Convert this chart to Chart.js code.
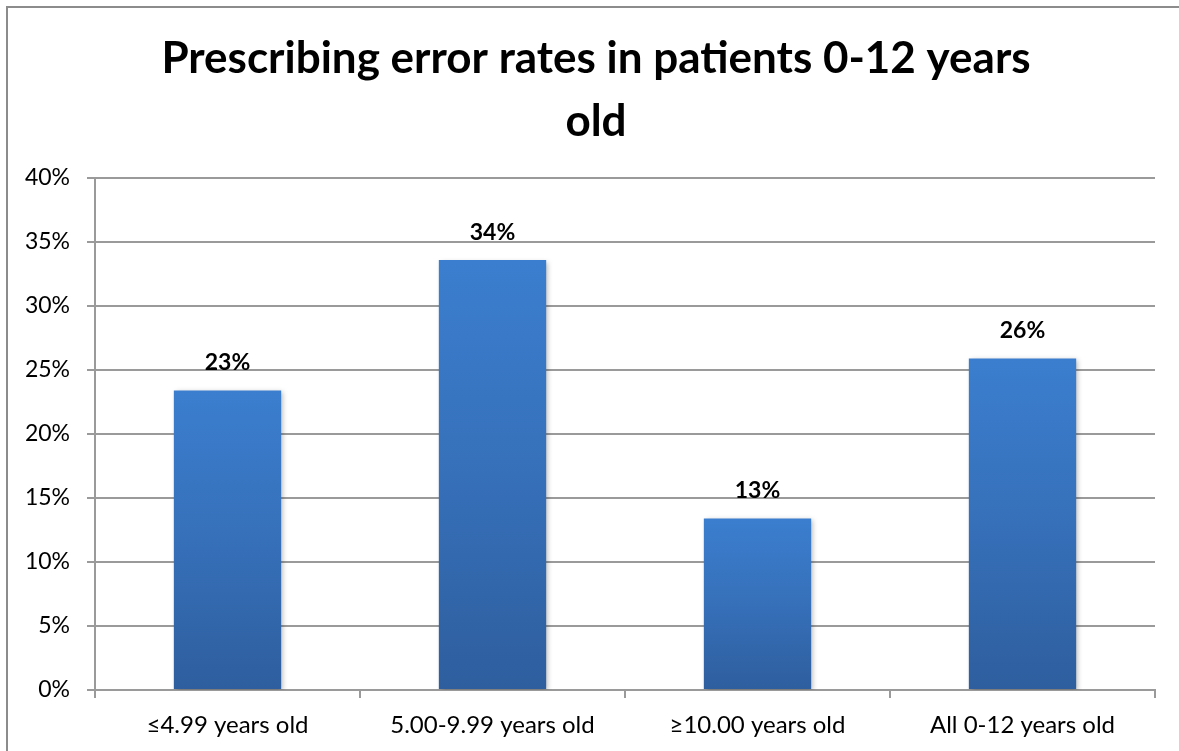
<!DOCTYPE html>
<html>
<head>
<meta charset="utf-8">
<script src="https://cdn.jsdelivr.net/npm/chart.js@4/dist/chart.umd.min.js"></script>
<style>
  html, body { margin: 0; padding: 0; background: #fff; }
  #wrap { position: relative; width: 1179px; height: 751px; }
</style>
</head>
<body>
<div id="wrap"><canvas id="chart" width="1179" height="751"></canvas></div>
<script>
// Age groups and their prescribing error rates (%)
const categories = ['≤4.99 years old', '5.00-9.99 years old', '≥10.00 years old', 'All 0-12 years old'];
const errorRates = [23.4, 33.6, 13.4, 25.9];
const titleLines = ['Prescribing error rates in patients 0-12 years', 'old'];
const yMax = 40;
const yStep = 5;

const FONT = 'Lato, "Open Sans", "DejaVu Sans", sans-serif';
const GRID = '#9a9a9a';

// Frame around the whole chart (left and top edges visible) and the two-line title
const framePlugin = {
  id: 'frame',
  beforeDraw(chart) {
    const c = chart.ctx;
    c.save();
    c.fillStyle = '#fff';
    c.fillRect(0, 0, chart.width, chart.height);
    c.strokeStyle = '#8c8c8c';
    c.lineWidth = 2;
    c.strokeRect(7, 7, chart.width + 20, chart.height + 20);
    c.fillStyle = '#000';
    c.font = 'bold 44px ' + FONT;
    c.textAlign = 'center';
    c.textBaseline = 'alphabetic';
    titleLines.forEach((line, i) => c.fillText(line, 596, 73 + i * 63));
    c.restore();
  }
};

// Soft drop shadow under bars, then bold value labels above them
const barExtras = {
  id: 'barExtras',
  beforeDatasetsDraw(chart) {
    const c = chart.ctx;
    c.save();
    c.shadowColor = 'rgba(0,0,0,0.28)';
    c.shadowBlur = 5;
    c.shadowOffsetX = 2;
    c.shadowOffsetY = 2;
  },
  afterDatasetsDraw(chart) {
    const c = chart.ctx;
    c.restore();
    c.save();
    c.fillStyle = '#000';
    c.font = 'bold 23px ' + FONT;
    c.textAlign = 'center';
    c.textBaseline = 'alphabetic';
    const meta = chart.getDatasetMeta(0);
    meta.data.forEach((bar, i) => {
      const v = chart.data.datasets[0].data[i];
      c.fillText(Math.round(v) + '%', bar.x, bar.y - 20);
    });
    c.restore();
  }
};

function barGradient(ctx) {
  const chart = ctx.chart;
  const ys = chart.scales.y;
  if (!ys || ctx.parsed === undefined) return '#3a7bca';
  const top = ys.getPixelForValue(ctx.parsed.y);
  const base = ys.getPixelForValue(0);
  if (!isFinite(top) || !isFinite(base) || top === base) return '#3a7bca';
  const g = chart.ctx.createLinearGradient(0, top, 0, base);
  g.addColorStop(0, '#3b7ecf');
  g.addColorStop(0.5, '#3670b9');
  g.addColorStop(1, '#2e5e9e');
  return g;
}

new Chart(document.getElementById('chart'), {
  type: 'bar',
  data: {
    labels: categories,
    datasets: [{
      data: errorRates,
      backgroundColor: barGradient,
      borderWidth: 0,
      categoryPercentage: 1,
      barPercentage: 0.405
    }]
  },
  options: {
    responsive: false,
    animation: false,
    devicePixelRatio: 1,
    layout: { padding: { top: 178, right: 24, bottom: 0, left: 0 } },
    plugins: {
      legend: { display: false },
      tooltip: { enabled: false },
      title: { display: false }
    },
    scales: {
      x: {
        offset: true,
        grid: {
          display: true,
          offset: true,
          drawOnChartArea: false,
          drawTicks: true,
          tickLength: 8,
          color: GRID,
          lineWidth: 2
        },
        border: { display: true, color: GRID, width: 2 },
        ticks: {
          color: '#000',
          font: { family: FONT, size: 24 },
          padding: 13,
          maxRotation: 0
        },
        afterFit(scale) { scale.height = 61; }
      },
      y: {
        min: 0,
        max: yMax,
        grid: {
          color: GRID,
          lineWidth: 2,
          drawTicks: true,
          tickLength: 8
        },
        border: { display: true, color: GRID, width: 2 },
        ticks: {
          stepSize: yStep,
          color: '#000',
          font: { family: FONT, size: 23 },
          padding: 17,
          callback: (v) => v + '%'
        },
        afterFit(scale) { scale.width = 95; }
      }
    }
  },
  plugins: [framePlugin, barExtras]
});
</script>
</body>
</html>
